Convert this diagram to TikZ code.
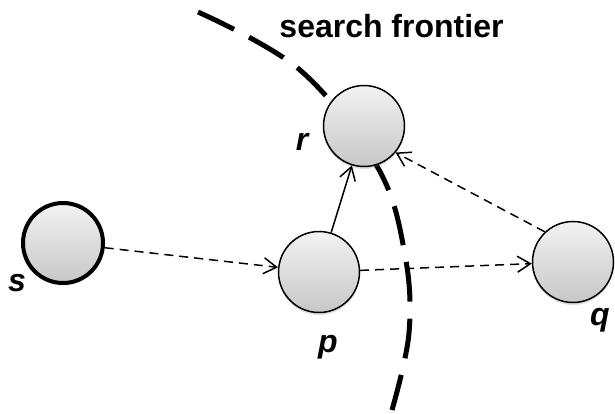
\documentclass[tikz,border=0pt]{standalone}
\usepackage{fontspec}
\setmainfont{Liberation Sans}
\usetikzlibrary{arrows.meta,shadows}
\begin{document}
\begin{tikzpicture}[x=1pt,y=-1pt,
  state/.style={circle,draw=black,line width=1.5pt,minimum size=81pt,inner sep=0pt,
    top color=black!5,bottom color=black!22,
    drop shadow={opacity=0.25,shadow xshift=0pt,shadow yshift=-2.5pt}},
  lbl/.style={font=\fontsize{32}{38}\selectfont\bfseries\itshape,anchor=base,inner sep=0pt},
  tip/.style={-{Straight Barb[length=13pt,width=16pt,line width=1.5pt]}},
  dasharrow/.style={tip,line width=1.5pt,dash pattern=on 9pt off 6pt},
  frontier/.style={line width=5pt,dash pattern=on 40pt off 17pt}]
\useasboundingbox (0,0) rectangle (615,413);
% search frontier
\draw[frontier] plot[smooth,tension=0.6] coordinates {(198,12) (300,70) (378,168) (405,255) (409,333) (392,410)};
\node[font=\fontsize{32}{38}\selectfont\bfseries,anchor=base,inner sep=0pt] (title) at (391.5,37) {search frontier};
% nodes
\node[state,line width=4pt,minimum size=80pt] (s) at (63,243) {};
\node[state] (r) at (364,126) {};
\node[state] (p) at (319,272) {};
\node[state] (q) at (573,262) {};
% labels
\node[lbl] (ls) at (17,291) {s};
\node[lbl] (lr) at (302,150) {r};
\node[lbl] (lp) at (328,352) {p};
\node[lbl] (lq) at (600,325) {q};
% connectors
\draw[dasharrow] (s) -- (p);
\draw[tip,line width=1.5pt] (p) -- (r);
\draw[dasharrow] (p) -- (q);
\draw[dasharrow] (q.133) -- (r.-40);
\end{tikzpicture}
\end{document}
